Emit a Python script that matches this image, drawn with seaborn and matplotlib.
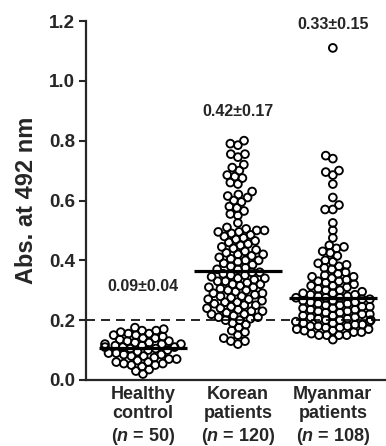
import numpy as np
import pandas as pd
import matplotlib
matplotlib.use("Agg")
import matplotlib.pyplot as plt
import seaborn as sns

# ---------------- data ----------------
groups = ["Healthy control", "Korean patients", "Myanmar patients"]
tick_labels = ["Healthy\ncontrol\n($n$ = 50)",
               "Korean\npatients\n($n$ = 120)",
               "Myanmar\npatients\n($n$ = 108)"]
annotations = ["0.09\u00b10.04", "0.42\u00b10.17", "0.33\u00b10.15"]
annotation_y = [0.312, 0.896, 1.188]

healthy = [0.175, 0.17, 0.165, 0.165, 0.16, 0.155, 0.155, 0.15, 0.15, 0.145,
           0.14, 0.14, 0.135, 0.13, 0.13, 0.125, 0.125, 0.12, 0.12, 0.12,
           0.115, 0.115, 0.11, 0.11, 0.11, 0.105, 0.105, 0.10, 0.10, 0.095,
           0.09, 0.09, 0.085, 0.085, 0.08, 0.08, 0.075, 0.07, 0.07, 0.065,
           0.06, 0.06, 0.055, 0.055, 0.05, 0.05, 0.045, 0.035, 0.03, 0.02]

korean = [0.80, 0.79, 0.785, 0.755, 0.755, 0.745, 0.72, 0.71, 0.70, 0.685,
          0.68, 0.675, 0.66, 0.655, 0.63, 0.62, 0.615, 0.61, 0.60, 0.595,
          0.58, 0.575, 0.565, 0.555, 0.55, 0.525, 0.51, 0.505,
          0.50, 0.50, 0.495, 0.495, 0.49, 0.485, 0.48, 0.475, 0.47, 0.465,
          0.46, 0.455, 0.45, 0.445, 0.44, 0.435, 0.43, 0.425, 0.42, 0.42,
          0.415, 0.41, 0.405, 0.40, 0.40, 0.395, 0.39, 0.385, 0.38, 0.375,
          0.37, 0.37,
          0.36, 0.36, 0.355, 0.35, 0.35, 0.345, 0.34, 0.34, 0.335, 0.33,
          0.33, 0.325, 0.32, 0.32, 0.315, 0.31, 0.31, 0.305, 0.30, 0.30,
          0.295, 0.29, 0.29, 0.285, 0.28, 0.28, 0.275, 0.27, 0.27, 0.265,
          0.26, 0.26, 0.255, 0.25, 0.25, 0.245, 0.24, 0.24, 0.235, 0.23,
          0.23, 0.225, 0.22, 0.22, 0.215, 0.21, 0.21, 0.205, 0.20, 0.20,
          0.19, 0.185, 0.175, 0.165, 0.16, 0.15, 0.14, 0.13, 0.13, 0.12]

myanmar = [1.11, 0.75, 0.74, 0.70, 0.695, 0.685, 0.655, 0.61, 0.585, 0.57,
           0.57, 0.525, 0.50, 0.475, 0.45, 0.445, 0.44, 0.43, 0.425, 0.415,
           0.40, 0.395, 0.39, 0.385, 0.38, 0.375, 0.37, 0.36, 0.355,
           0.35, 0.345, 0.345, 0.34, 0.335, 0.33, 0.33, 0.325, 0.32, 0.315,
           0.315, 0.31, 0.305, 0.30, 0.30, 0.295, 0.29, 0.29, 0.285, 0.285,
           0.28, 0.28, 0.275, 0.275, 0.275,
           0.27, 0.27, 0.265, 0.265, 0.26, 0.26, 0.255, 0.255, 0.25, 0.25,
           0.245, 0.245, 0.24, 0.24, 0.235, 0.235, 0.23, 0.23, 0.225, 0.225,
           0.22, 0.22, 0.215, 0.215, 0.21, 0.21, 0.205, 0.205, 0.20, 0.20,
           0.20, 0.195, 0.195, 0.19, 0.19, 0.185, 0.185, 0.18, 0.18, 0.18,
           0.175, 0.175, 0.17, 0.17, 0.165, 0.165, 0.16, 0.16, 0.155,
           0.15, 0.15, 0.15, 0.15, 0.135]

cutoff = 0.2

df = pd.DataFrame({
    "group": [groups[0]] * len(healthy) + [groups[1]] * len(korean) + [groups[2]] * len(myanmar),
    "value": healthy + korean + myanmar,
})

# ---------------- style ----------------
sns.set_style("ticks")
plt.rcParams["font.family"] = ["Liberation Sans", "DejaVu Sans"]
plt.rcParams["font.weight"] = "bold"
plt.rcParams["axes.labelweight"] = "bold"
plt.rcParams["mathtext.fontset"] = "custom"
plt.rcParams["mathtext.it"] = "Liberation Sans:bold:italic"
plt.rcParams["mathtext.rm"] = "Liberation Sans:bold"
plt.rcParams["mathtext.bf"] = "Liberation Sans:bold"

fig = plt.figure(figsize=(3.86, 4.46), dpi=100)
ax = fig.add_axes([86 / 386, 66 / 446, 300 / 386, 359 / 446])

ax.set_xlim(-0.6, 2.56)
ax.set_ylim(0, 1.2)

# swarm laid out with a small marker so that the final circles overlap a bit
layout_size = 4.0
draw_size = 5.6
sns.swarmplot(data=df, x="group", y="value", order=groups, ax=ax,
              size=layout_size, color="white", edgecolor="black",
              linewidth=1.3, zorder=3)
ax.set_xlim(-0.6, 2.56)
ax.set_ylim(0, 1.2)
fig.canvas.draw()  # runs the beeswarm layout once
for coll in ax.collections:
    if "draw" in coll.__dict__:
        del coll.draw  # freeze the computed layout
    coll.set_sizes([draw_size ** 2])
    coll.set_facecolor("none")
    coll.set_edgecolor("black")
    coll.set_linewidth(1.35)

# median lines
for i, g in enumerate(groups):
    med = np.median(df.loc[df["group"] == g, "value"])
    ax.hlines(med, i - 0.46, i + 0.46, color="black", lw=2.3, zorder=5)

ax.axhline(cutoff, color="black", lw=1.2, dashes=(5.4, 3.6), zorder=1)

for i, (txt, yy) in enumerate(zip(annotations, annotation_y)):
    ax.text(i, yy, txt, ha="center", va="center", fontsize=11.5, fontweight="bold")

ax.set_xlim(-0.6, 2.56)
ax.set_ylim(0, 1.2)
ax.set_yticks(np.arange(0, 1.21, 0.2))
ax.set_yticklabels([f"{v:.1f}" for v in np.arange(0, 1.21, 0.2)])
ax.set_xticks(range(len(groups)))
ax.set_xticklabels(tick_labels, linespacing=1.22)
ax.tick_params(axis="y", labelsize=13.5, length=5, width=1.5, direction="out", pad=3)
ax.tick_params(axis="x", labelsize=13, length=0, pad=4)
for lab in ax.get_xticklabels() + ax.get_yticklabels():
    lab.set_fontweight("bold")

ax.set_xlabel("")
ax.set_ylabel("Abs. at 492 nm", fontsize=17, fontweight="bold", labelpad=8)

for side in ["top", "right"]:
    ax.spines[side].set_visible(False)
for side in ["left", "bottom"]:
    ax.spines[side].set_linewidth(1.6)

fig.savefig("out.png", dpi=100)
